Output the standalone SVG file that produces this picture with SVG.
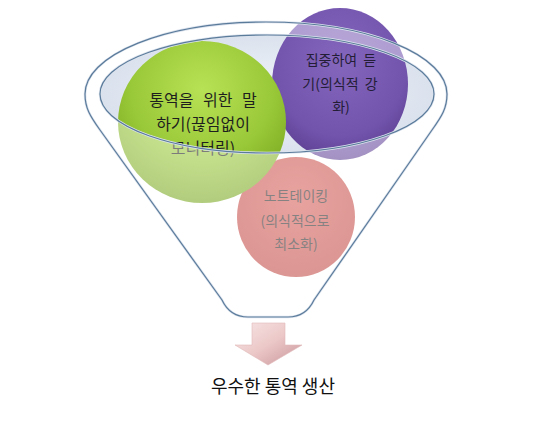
<svg xmlns="http://www.w3.org/2000/svg" width="550" height="434" viewBox="0 0 550 434">
<style>
  .t { font-family: "Noto Sans CJK KR", "Noto Sans", sans-serif; text-anchor: middle; }
  .tg { font-size: 16px; fill: #1e1e1e; word-spacing: 6px; }
  .tp { font-size: 14px; fill: #231d36; word-spacing: 3px; }
  .tr { font-size: 14px; fill: #302828; }
  .tb { font-size: 18px; fill: #111; }
  .rim { fill: none; stroke: #5b7b9b; stroke-width: 1.2; }
  .halo { fill: none; stroke: #dde4ee; stroke-width: 2.6; }
</style>
<defs>
  <radialGradient id="gGreen" cx="50%" cy="30%" r="70%">
    <stop offset="0" stop-color="#b8e255"/>
    <stop offset="0.6" stop-color="#99c838"/>
    <stop offset="1" stop-color="#7aa820"/>
  </radialGradient>
  <radialGradient id="gPurple" cx="50%" cy="35%" r="70%">
    <stop offset="0" stop-color="#8566bd"/>
    <stop offset="0.7" stop-color="#7254ad"/>
    <stop offset="1" stop-color="#5a3d8e"/>
  </radialGradient>
  <radialGradient id="gPink" cx="50%" cy="35%" r="70%">
    <stop offset="0" stop-color="#d8605a"/>
    <stop offset="1" stop-color="#c04a45"/>
  </radialGradient>
  <radialGradient id="gOpen" cx="50%" cy="50%" r="55%">
    <stop offset="0" stop-color="#f2f5fa"/>
    <stop offset="1" stop-color="#d8e0ec"/>
  </radialGradient>
  <linearGradient id="gArrow" x1="0" y1="0" x2="1" y2="1">
    <stop offset="0" stop-color="#f8e6e6"/>
    <stop offset="0.5" stop-color="#ecc8c8"/>
    <stop offset="1" stop-color="#c8949a"/>
  </linearGradient>
</defs>

<g id="funnel-opening">
  <ellipse cx="267" cy="94" rx="167" ry="59" fill="url(#gOpen)"/>
</g>

<g id="node-notetaking">
  <ellipse cx="296" cy="217" rx="59" ry="60" fill="url(#gPink)"/>
  <text class="t tr" x="296" y="201">노트테이킹</text>
  <text class="t tr" x="295" y="226">(의식적으로</text>
  <text class="t tr" x="296" y="249">최소화)</text>
</g>

<g id="node-focus">
  <ellipse cx="340" cy="84" rx="68" ry="76" fill="url(#gPurple)"/>
  <text class="t tp" x="341" y="65">집중하여 듣</text>
  <text class="t tp" x="340" y="89">기(의식적 강</text>
  <text class="t tp" x="341" y="112">화)</text>
</g>

<g id="node-speaking">
  <ellipse cx="202" cy="122" rx="84" ry="81" fill="url(#gGreen)"/>
  <text class="t tg" x="203" y="106">통역을 위한 말</text>
  <text class="t tg" x="203" y="130">하기(끊임없이</text>
  <text class="t tg" x="203" y="154">모니터링)</text>
</g>

<g id="funnel">
  <path fill="#ffffff" fill-opacity="0.42" fill-rule="evenodd"
        d="M85,94 A181,72 0 0 1 447,94 C447,108 442,116 432,130 L314,300 Q306,317 288,317 L248,317 Q230,317 222,300 L100,130 C90,116 85,108 85,94 Z
           M100,94 A167,59 0 1 0 434,94 A167,59 0 1 0 100,94 Z"/>
  <path class="halo" d="M85,94 A181,72 0 0 1 447,94 C447,108 442,116 432,130 L314,300 Q306,317 288,317 L248,317 Q230,317 222,300 L100,130 C90,116 85,108 85,94 Z"/>
  <ellipse class="halo" cx="267" cy="94" rx="167" ry="59"/>
  <path class="rim" d="M85,94 A181,72 0 0 1 447,94 C447,108 442,116 432,130 L314,300 Q306,317 288,317 L248,317 Q230,317 222,300 L100,130 C90,116 85,108 85,94 Z"/>
  <ellipse class="rim" cx="267" cy="94" rx="167" ry="59"/>
</g>

<g id="connectors">
  <path d="M252,323 L285,323 L285,345 L302,345 L268,365 L235,345 L252,345 Z" fill="url(#gArrow)" stroke="#e0b8b8" stroke-width="0.6"/>
</g>

<g id="node-result">
  <text class="t tb" x="273" y="393">우수한 통역 생산</text>
</g>
</svg>
